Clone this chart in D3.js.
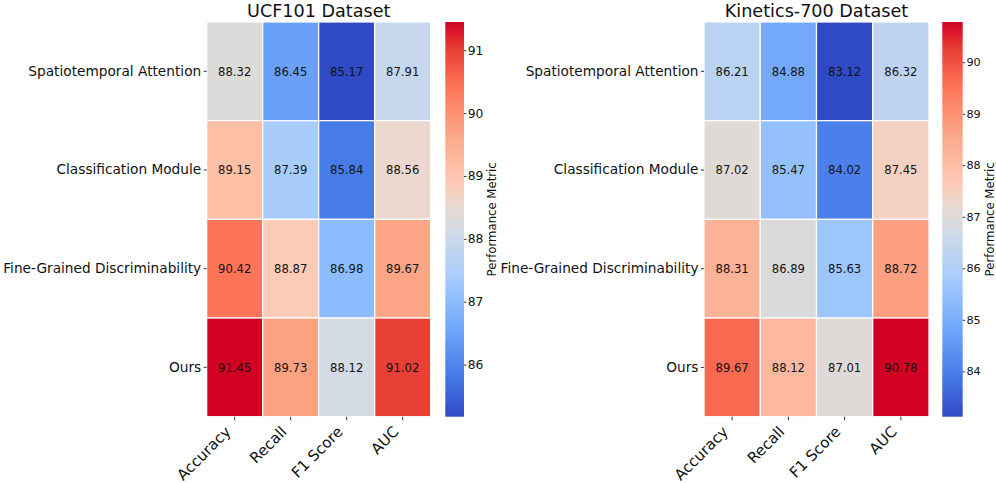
<!DOCTYPE html>
<html>
<head>
<meta charset="utf-8">
<script src="https://cdn.jsdelivr.net/npm/d3@7"></script>
<style>
  body { margin: 0; background: #fff; }
  text { font-family: "DejaVu Sans", sans-serif; fill: #111; }
</style>
</head>
<body>
<svg id="chart" width="996" height="483"></svg>
<script>
var metrics = ["Accuracy", "Recall", "F1 Score", "AUC"];
var methods = [
  "Spatiotemporal Attention",
  "Classification Module",
  "Fine-Grained Discriminability",
  "Ours"
];
var ucfValues = [
  [88.32, 86.45, 85.17, 87.91],
  [89.15, 87.39, 85.84, 88.56],
  [90.42, 88.87, 86.98, 89.67],
  [91.45, 89.73, 88.12, 91.02]
];
var kineticsValues = [
  [86.21, 84.88, 83.12, 86.32],
  [87.02, 85.47, 84.02, 87.45],
  [88.31, 86.89, 85.63, 88.72],
  [89.67, 88.12, 87.01, 90.78]
];
var ucfTicks = [86, 87, 88, 89, 90, 91];
var kineticsTicks = [84, 85, 86, 87, 88, 89, 90];

// coolwarm-like colormap, tuned to the picture's tones (position 0..1 -> colour)
var cmapPos = [0, 0.107, 0.204, 0.288, 0.354, 0.437, 0.47, 0.5, 0.541, 0.589, 0.634, 0.717, 0.836, 0.93, 1];
var cmapCol = ["#2f4ac4", "#477be8", "#69a0f8", "#8cbcfe", "#a8ccfc", "#c6d7ee", "#d3dbe5", "#dcdada",
               "#ecd8ce", "#fdcbb8", "#fdbfa6", "#fca687", "#fd7458", "#e94036", "#d20022"];

var svg = d3.select("#chart");
var defs = svg.append("defs");

function drawPanel(cfg) {
  var flat = cfg.values.reduce(function (a, b) { return a.concat(b); }, []);
  var vmin = d3.min(flat), vmax = d3.max(flat);

  var color = d3.scaleLinear()
    .domain(cmapPos.map(function (p) { return vmin + (vmax - vmin) * p; }))
    .range(cmapCol)
    .interpolate(d3.interpolateRgb);

  var xScale = d3.scaleBand().domain(metrics).range([cfg.left, cfg.right]);
  var yScale = d3.scaleBand().domain(methods).range([cfg.top, cfg.bottom]);

  var g = svg.append("g");

  // cells
  cfg.values.forEach(function (row, r) {
    row.forEach(function (v, c) {
      g.append("rect")
        .attr("x", xScale(metrics[c]))
        .attr("y", yScale(methods[r]))
        .attr("width", xScale.bandwidth())
        .attr("height", yScale.bandwidth())
        .style("fill", color(v))
        .style("stroke", "#fff")
        .style("stroke-width", 1.2);
      g.append("text")
        .attr("x", xScale(metrics[c]) + xScale.bandwidth() / 2)
        .attr("y", yScale(methods[r]) + yScale.bandwidth() / 2)
        .attr("text-anchor", "middle")
        .attr("dy", "0.36em")
        .style("font-size", "11.6px")
        .text(v.toFixed(2));
    });
  });

  // y axis
  var yAxis = d3.axisLeft(yScale).tickSize(3).tickPadding(2.5);
  var yg = g.append("g")
    .attr("transform", "translate(" + cfg.left + ",0)")
    .call(yAxis);
  yg.select(".domain").remove();
  yg.selectAll("line").style("stroke", "#333");
  yg.selectAll("text").style("font-size", "13.7px").style("font-family", "DejaVu Sans").attr("fill", "#111");

  // x axis
  var xAxis = d3.axisBottom(xScale).tickSize(3.5).tickPadding(3.5);
  var xg = g.append("g")
    .attr("transform", "translate(0," + cfg.bottom + ")")
    .call(xAxis);
  xg.select(".domain").remove();
  xg.selectAll("line").style("stroke", "#333");
  xg.selectAll("text")
    .style("font-size", "15px")
    .style("font-family", "DejaVu Sans")
    .attr("fill", "#111")
    .attr("text-anchor", "end")
    .attr("dy", null)
    .attr("y", null)
    .attr("transform", "translate(-3,16) rotate(-45)");

  // title
  g.append("text")
    .attr("x", (cfg.left + cfg.right) / 2)
    .attr("y", 16.5)
    .attr("text-anchor", "middle")
    .style("font-size", "17.6px")
    .text(cfg.title);

  // colorbar
  var gradId = "grad-" + cfg.id;
  var grad = defs.append("linearGradient")
    .attr("id", gradId)
    .attr("x1", 0).attr("y1", 1).attr("x2", 0).attr("y2", 0);
  cmapPos.forEach(function (p, i) {
    grad.append("stop")
      .attr("offset", (p * 100) + "%")
      .attr("stop-color", cmapCol[i]);
  });
  g.append("rect")
    .attr("x", cfg.cbLeft)
    .attr("y", cfg.top)
    .attr("width", cfg.cbWidth)
    .attr("height", cfg.bottom - cfg.top)
    .style("fill", "url(#" + gradId + ")");

  var cScale = d3.scaleLinear().domain([vmin, vmax]).range([cfg.bottom, cfg.top]);
  var cAxis = d3.axisRight(cScale).tickValues(cfg.ticks).tickSize(2.5).tickPadding(1.2)
    .tickFormat(d3.format("d"));
  var cg = g.append("g")
    .attr("transform", "translate(" + (cfg.cbLeft + cfg.cbWidth) + ",0)")
    .call(cAxis);
  cg.select(".domain").remove();
  cg.selectAll("line").style("stroke", "#333");
  cg.selectAll("text").style("font-size", cfg.cbFont + "px").style("font-family", "DejaVu Sans").attr("fill", "#111");

  g.append("text")
    .attr("transform", "translate(" + (cfg.cbLeft + cfg.cbWidth + cfg.labelGap) + "," + ((cfg.top + cfg.bottom) / 2) + ") rotate(-90)")
    .attr("text-anchor", "middle")
    .style("font-size", "11.7px")
    .text("Performance Metric");
}

drawPanel({
  id: "ucf",
  title: "UCF101 Dataset",
  values: ucfValues,
  ticks: ucfTicks,
  left: 206.7, right: 430.7, top: 22, bottom: 416.7,
  cbLeft: 445.3, cbWidth: 18.7, labelGap: 32.3, cbFont: 12.3
});

drawPanel({
  id: "kin",
  title: "Kinetics-700 Dataset",
  values: kineticsValues,
  ticks: kineticsTicks,
  left: 704, right: 929, top: 22, bottom: 416.7,
  cbLeft: 942.3, cbWidth: 20.4, labelGap: 31, cbFont: 11.2
});
</script>
</body>
</html>
